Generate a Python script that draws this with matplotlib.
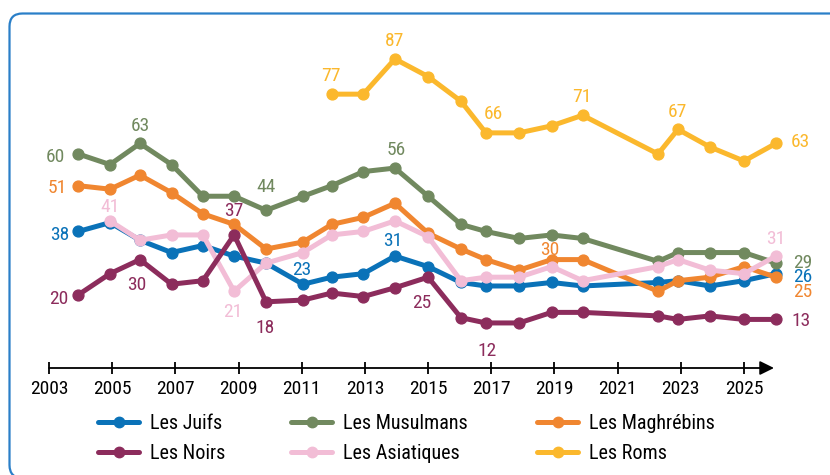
import numpy as np
import matplotlib
matplotlib.use('Agg')
import matplotlib.pyplot as plt
from matplotlib import font_manager
from matplotlib.patches import FancyBboxPatch
from matplotlib.lines import Line2D
from matplotlib.transforms import IdentityTransform

nan = np.nan

# survey dates (position on the time axis)
survey_x = [2003.93, 2004.93, 2005.88, 2006.88, 2007.87, 2008.86, 2009.87,
            2011.04, 2011.95, 2012.95, 2013.95, 2015.0, 2016.04, 2016.83,
            2017.88, 2018.91, 2019.89, 2022.28, 2022.91, 2023.92, 2025.0, 2026.01]
tick_years = list(range(2003, 2026, 2))

juifs = [38, 40.5, 35.5, 32, 34, 31, 29, 23, 25, 26, 31, 28, 23.5, 22.5,
         22.5, 23.5, 22.5, 23.5, 24, 22.5, 24, 26]
musulmans = [60, 57, 63, 57, 48, 48, 44, 48, 51, 55, 56, 48, 40, 38,
             36, 37, 36, 29.5, 32, 32, 32, 29]
maghrebins = [51, 50, 54, 49, 43, 40, 33, 35, 40, 42, 46, 37.5, 33, 30,
              27, 30, 30, 21, 24, 25, 28, 25]
noirs = [20, 26, 30, 23, 24, 37, 18, 18.5, 20.5, 19.5, 22, 25, 13.5, 12,
         12, 15, 15, 14, 13, 14, 13, 13]
asiatiques = [nan, 41, 35.5, 37, 37, 21, 29, 32, 37, 38, 41, 36.5, 24, 25,
              25, 28, 24, 28, 30, 27, 26, 31]
roms = [nan, nan, nan, nan, nan, nan, nan, nan, 77, 77, 87, 82, 75, 66,
        66, 68, 71, 60, 67, 62, 58, 63]

names = ['Les Juifs', 'Les Musulmans', 'Les Maghrébins',
         'Les Noirs', 'Les Asiatiques', 'Les Roms']
values = [juifs, musulmans, maghrebins, noirs, asiatiques, roms]
colors = ['#0a72b8', '#71895f', '#f08630', '#8c2c5c', '#f2bdd6', '#fbb82d']
zorders = [3, 4, 5, 7, 6, 8]

# labelled points: (series index, point index, dx px, dy px)
labels = [
    (0, 0, -19, 2), (0, 7, -1, -16), (0, 10, -2, -17), (0, 21, 27, 1),
    (1, 0, -23, 1), (1, 2, 0, -19), (1, 6, 0, -25), (1, 10, 1, -20), (1, 21, 27, -2),
    (2, 0, -21, 0), (2, 15, -2, -12), (2, 21, 27, 13),
    (3, 0, -20, 2), (3, 2, -3, 23), (3, 5, 0, -26), (3, 6, -1, 24),
    (3, 11, -6, 24), (3, 13, 1, 26), (3, 21, 25, 0),
    (4, 1, 0, -16), (4, 5, -1, 19), (4, 21, 0, -19),
    (5, 8, -1, -20), (5, 10, 0, -20), (5, 13, 7, -21), (5, 16, -1, -20),
    (5, 18, -1, -19), (5, 21, 24, -3),
]

available = {f.name for f in font_manager.fontManager.ttflist}
font = next((f for f in ['Liberation Sans Narrow', 'Roboto Condensed', 'Arial Narrow']
             if f in available), 'DejaVu Sans')
plt.rcParams['font.family'] = [font, 'DejaVu Sans']

W, H = 830, 475
fig = plt.figure(figsize=(W / 100, H / 100), dpi=100)


def fx(px):
    return px / W


def fy(py):
    return 1 - py / H


ax = fig.add_axes([49 / W, (H - 368) / H, 741 / W, (368 - 20) / H])
ax.set_xlim(2003, 2003 + 741 / 31.59)
ax.set_ylim(-0.8, (365.2 - 20) / 3.52)
for s in ax.spines.values():
    s.set_visible(False)
ax.set_yticks([])
ax.set_xticks(tick_years)
ax.set_xticklabels([str(y) for y in tick_years])
ax.tick_params(axis='x', direction='inout', length=9, width=1.3, pad=4,
               labelsize=14, color='black', labelcolor='black')

ax.annotate('', xy=(2025.95, -0.8), xytext=(2003, -0.8),
            arrowprops=dict(arrowstyle='-|>,head_length=0.85,head_width=0.42',
                            color='black', lw=1.3, shrinkA=0, shrinkB=0,
                            mutation_scale=10),
            annotation_clip=False)

for vals, c, z in zip(values, colors, zorders):
    ax.plot(survey_x, vals, color=c, lw=3.6, marker='o', ms=7.8,
            solid_capstyle='round', solid_joinstyle='round', zorder=z,
            clip_on=False)

for si, pi, dx, dy in labels:
    v = values[si][pi]
    ax.annotate(f'{round(v):d}', xy=(survey_x[pi], v),
                xytext=(dx * 0.72, -(dy + 7) * 0.72), textcoords='offset points',
                ha='center', va='baseline', fontsize=14, color=colors[si],
                zorder=10)

# legend
col_x = [96, 289, 535]
text_x = [150, 343, 589]
row_y = [422, 452]
for i, (n, c) in enumerate(zip(names, colors)):
    r, col = divmod(i, 3)
    y = row_y[r]
    x0 = col_x[col]
    fig.add_artist(Line2D([fx(x0 + 2), fx(x0 + 43)], [fy(y), fy(y)],
                          transform=fig.transFigure, lw=3.6, color=c,
                          solid_capstyle='round'))
    fig.add_artist(Line2D([fx(x0 + 22.5)], [fy(y)], transform=fig.transFigure,
                          marker='o', ms=7.5, color=c, lw=0))
    fig.text(fx(text_x[col]), fy(y + 7), n, fontsize=14.5, ha='left',
             va='baseline', color='black')

frame = FancyBboxPatch((9.5, -3), 900, 464.5,
                       boxstyle='round,pad=0,rounding_size=13',
                       transform=IdentityTransform(), fill=False,
                       ec='#2a7fc8', lw=1.6)
fig.add_artist(frame)

fig.savefig('out.png', dpi=100)
